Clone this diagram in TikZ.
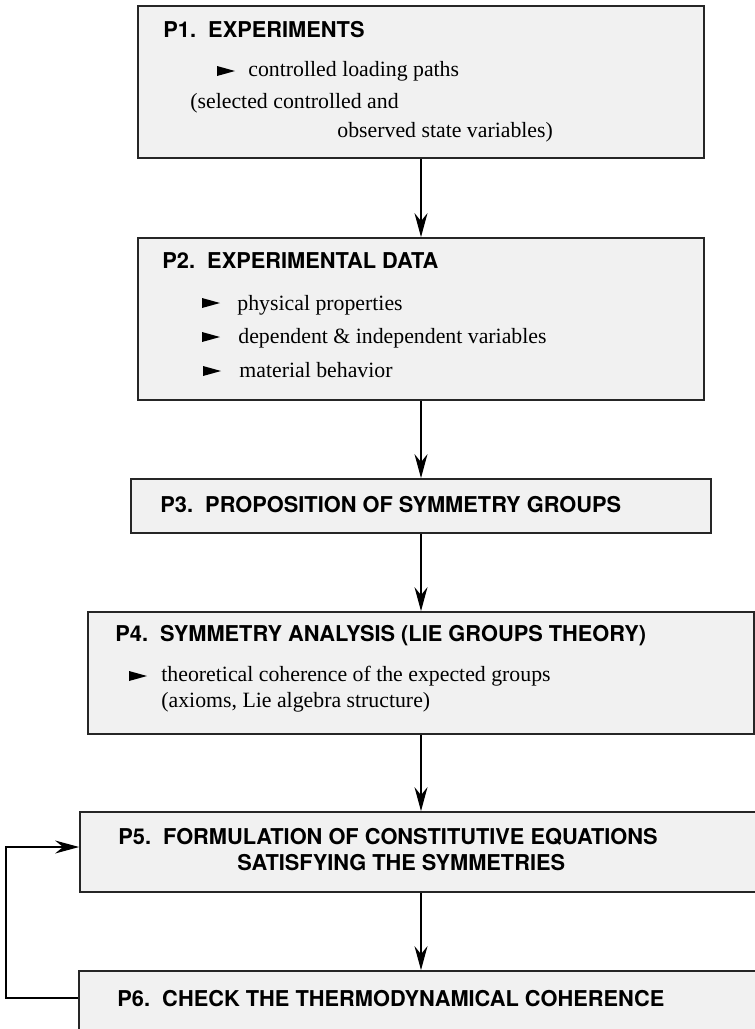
\documentclass[tikz,border=0pt]{standalone}
\usepackage{fontspec}
\setmainfont{Liberation Serif}
\newfontfamily\headfont{TeX Gyre Heros}
\usetikzlibrary{calc,positioning,arrows.meta}
\definecolor{boxgrey}{RGB}{241,241,241}
\def\pointer(#1)% small black pointer in front of an item
{ \fill (#1) ++(0,-5) -- ++(18,5) -- ++(-18,5) -- cycle;}

\begin{document}
\begin{tikzpicture}[x=0.5pt,y=-0.5pt,>={Stealth[length=12pt,width=6.5pt,inset=4pt]},
  box/.style={draw=black!85,line width=0.9pt,fill=boxgrey,inner sep=0pt},
  link/.style={->,line width=0.65pt},
  head/.style={anchor=base west,inner sep=0pt,font=\headfont\bfseries\fontsize{10.9}{13}\selectfont},
  item/.style={anchor=base west,inner sep=0pt,font=\fontsize{10.9}{13}\selectfont}]
\useasboundingbox (0,0) rectangle (755,1029);
\clip (0,0) rectangle (755,1029);

% boxes
\node[box,minimum width=283pt,minimum height=76pt] (p1) at (421,82) {};
\node[box,minimum width=283pt,minimum height=81pt] (p2) at (421,319) {};
\node[box,minimum width=290pt,minimum height=27pt] (p3) at (421,506) {};
\node[box,minimum width=333pt,minimum height=61pt] (p4) at (421,673) {};
\node[box,minimum width=341pt,minimum height=40pt] (p5) at (421,852) {};
\node[box,minimum width=342pt,minimum height=42pt] (p6) at (421,1013) {};

% P1
\node[head] (p1t) at (163,37) {P1.\ \ EXPERIMENTS};
\pointer(217,71)
\node[item] (p1a) at (248,76) {controlled loading paths};
\node[item] (p1b) at (190,108) {(selected controlled and};
\node[item] (p1c) at (337,137) {observed state variables)};

% P2
\node[head] (p2t) at (162,268) {P2.\ \ EXPERIMENTAL DATA};
\pointer(202,303)
\pointer(202,337)
\pointer(203,371)
\node[item] (p2a) at (237,310) {physical properties};
\node[item] (p2b) at (238,343) {dependent \& independent variables};
\node[item] (p2c) at (239,377) {material behavior};

% P3
\node[head] (p3t) at (160,512) {P3.\ \ PROPOSITION OF SYMMETRY GROUPS};

% P4
\node[head] (p4t) at (115,641) {P4.\ \ SYMMETRY ANALYSIS (LIE GROUPS THEORY)};
\pointer(129,676)
\node[item] (p4a) at (161,681) {theoretical coherence of the expected groups};
\node[item] (p4b) at (161,707) {(axioms, Lie algebra structure)};

% P5, P6
\node[head] (p5t) at (118,844) {P5.\ \ FORMULATION OF CONSTITUTIVE EQUATIONS};
\node[head] (p5u) at (237,870) {SATISFYING THE SYMMETRIES};
\node[head] (p6t) at (117,1006) {P6.\ \ CHECK THE THERMODYNAMICAL COHERENCE};

%%%%%
\draw[link] (p1) -- (p2);
\draw[link] (p2) -- (p3);
\draw[link] (p3) -- (p4);
\draw[link] (p4) -- (p5);
\draw[link] (p5) -- (p6);
\draw[link] ([yshift=7.5pt]p6.west) -- ++(-72,0) |- ([yshift=2.5pt]p5.west);

\end{tikzpicture}
\end{document}
